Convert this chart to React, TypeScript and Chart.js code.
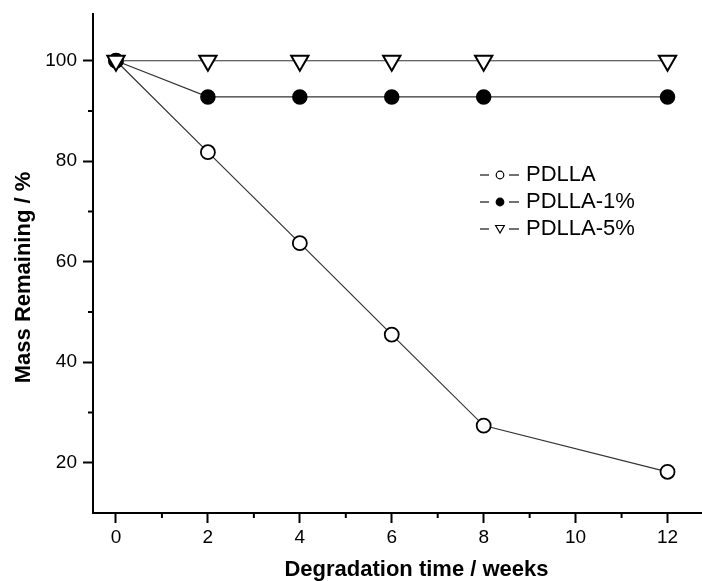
import React, { useEffect, useRef } from 'react';
import { Chart, registerables } from 'chart.js';
import { drawPoint } from 'chart.js/helpers';

Chart.register(...registerables);

const weeks = [0, 2, 4, 6, 8, 12];
const pdlla = [100, 81.8, 63.7, 45.5, 27.4, 18.2];
const pdlla1 = [100, 92.8, 92.8, 92.8, 92.8, 92.8];
const pdlla5 = [100, 100, 100, 100, 100, 100];
const seriesLabels = ['PDLLA', 'PDLLA-1%', 'PDLLA-5%'];
const xMajorTicks = [0, 2, 4, 6, 8, 10, 12];
const xMinorTicks = [1, 3, 5, 7, 9, 11];
const yMajorTicks = [20, 40, 60, 80, 100];
const yMinorTicks = [30, 50, 70, 90];
const xTitle = 'Degradation time / weeks';
const yTitle = 'Mass Remaining / %';

const FONT = "'Liberation Sans', Arial, Helvetica, sans-serif";

const toPoints = (ys: number[]) => weeks.map((x, i) => ({ x, y: ys[i] }));

const minorTicksPlugin = {
  id: 'minorTicks',
  afterDraw(chart: any) {
    const { ctx, chartArea, scales } = chart;
    ctx.save();
    ctx.strokeStyle = '#000';
    ctx.lineWidth = 2;
    xMinorTicks.forEach((v) => {
      const px = scales.x.getPixelForValue(v);
      ctx.beginPath();
      ctx.moveTo(px, chartArea.bottom);
      ctx.lineTo(px, chartArea.bottom + 5);
      ctx.stroke();
    });
    yMinorTicks.forEach((v) => {
      const py = scales.y.getPixelForValue(v);
      ctx.beginPath();
      ctx.moveTo(chartArea.left, py);
      ctx.lineTo(chartArea.left - 5, py);
      ctx.stroke();
    });
    ctx.restore();
  },
};

const titlesPlugin = {
  id: 'axisTitles',
  afterDraw(chart: any) {
    const { ctx, chartArea } = chart;
    ctx.save();
    ctx.fillStyle = '#000';
    ctx.font = `bold 22px ${FONT}`;
    ctx.textAlign = 'center';
    ctx.textBaseline = 'middle';
    ctx.fillText(xTitle, chartArea.left + 323.5, chartArea.bottom + 57);
    ctx.translate(chartArea.left - 69, chartArea.top + 263.5);
    ctx.rotate(-Math.PI / 2);
    ctx.fillText(yTitle, 0, 0);
    ctx.restore();
  },
};

const legendPlugin = {
  id: 'innerLegend',
  afterDraw(chart: any) {
    const { ctx, chartArea } = chart;
    const x0 = chartArea.left + 387;
    const y0 = chartArea.top + 161;
    const rowH = 27;
    ctx.save();
    chart.data.datasets.forEach((ds: any, i: number) => {
      const y = y0 + i * rowH;
      ctx.strokeStyle = '#444';
      ctx.lineWidth = 1.4;
      ctx.beginPath();
      ctx.moveTo(x0, y);
      ctx.lineTo(x0 + 9, y);
      ctx.moveTo(x0 + 29, y);
      ctx.lineTo(x0 + 39, y);
      ctx.stroke();
      ctx.fillStyle = ds.pointBackgroundColor;
      ctx.strokeStyle = '#000';
      ctx.lineWidth = 1.2;
      drawPoint(ctx, {
        pointStyle: ds.pointStyle,
        rotation: ds.pointRotation || 0,
        radius: ds.pointStyle === 'triangle' ? 5 : 3.8,
        borderWidth: 1.2,
      }, x0 + 20, ds.pointStyle === 'triangle' ? y - 1 : y);
      ctx.fillStyle = '#000';
      ctx.font = `22px ${FONT}`;
      ctx.textBaseline = 'middle';
      ctx.textAlign = 'left';
      ctx.fillText(ds.label, x0 + 46, y);
    });
    ctx.restore();
  },
};

export default function App() {
  const canvasRef = useRef<HTMLCanvasElement | null>(null);

  useEffect(() => {
    const canvas = canvasRef.current;
    if (!canvas) return;
    const lineColor = '#333';
    const chart = new Chart(canvas, {
      type: 'line',
      data: {
        datasets: [
          {
            label: seriesLabels[0],
            data: toPoints(pdlla),
            borderColor: lineColor,
            borderWidth: 1.2,
            pointStyle: 'circle',
            pointRadius: 7,
            pointBorderWidth: 1.8,
            pointBorderColor: '#000',
            pointBackgroundColor: '#fff',
            order: 2,
          },
          {
            label: seriesLabels[1],
            data: toPoints(pdlla1),
            borderColor: lineColor,
            borderWidth: 1.2,
            pointStyle: 'circle',
            pointRadius: 7,
            pointBorderWidth: 1.5,
            pointBorderColor: '#000',
            pointBackgroundColor: '#000',
            order: 1,
          },
          {
            label: seriesLabels[2],
            data: toPoints(pdlla5),
            borderColor: lineColor,
            borderWidth: 1.2,
            pointStyle: 'triangle',
            pointRotation: 180,
            pointRadius: 10,
            pointBorderWidth: 2,
            pointBorderColor: '#000',
            pointBackgroundColor: '#fff',
            order: 0,
          },
        ],
      },
      options: {
        responsive: false,
        animation: false,
        layout: { autoPadding: false, padding: { top: 14, left: 0, right: 0, bottom: 0 } },
        plugins: {
          legend: { display: false },
          tooltip: { enabled: false },
        },
        elements: { line: { tension: 0 } },
        scales: {
          x: {
            type: 'linear',
            min: -0.5,
            max: 12.75,
            afterBuildTicks: (scale: any) => {
              scale.ticks = xMajorTicks.map((v) => ({ value: v }));
            },
            afterFit: (scale: any) => {
              scale.height = 68;
              scale.paddingLeft = 0;
              scale.paddingRight = 0;
            },
            ticks: {
              color: '#000',
              font: { family: FONT, size: 19 },
              padding: 3,
              maxRotation: 0,
              autoSkip: false,
              callback: (v: any) => String(v),
            },
            grid: {
              drawOnChartArea: false,
              drawTicks: true,
              tickLength: 10,
              tickWidth: 2,
              tickColor: '#000',
            },
            border: { display: true, color: '#000', width: 2 },
            title: { display: false },
          },
          y: {
            type: 'linear',
            min: 10,
            max: 109.3,
            afterBuildTicks: (scale: any) => {
              scale.ticks = yMajorTicks.map((v) => ({ value: v }));
            },
            afterFit: (scale: any) => {
              scale.width = 93;
              scale.paddingTop = 0;
              scale.paddingBottom = 0;
            },
            ticks: {
              color: '#000',
              font: { family: FONT, size: 19 },
              padding: 6,
              autoSkip: false,
              callback: (v: any) => String(v),
            },
            grid: {
              drawOnChartArea: false,
              drawTicks: true,
              tickLength: 10,
              tickWidth: 2,
              tickColor: '#000',
            },
            border: { display: true, color: '#000', width: 2 },
            title: { display: false },
          },
        },
      },
      plugins: [minorTicksPlugin, titlesPlugin, legendPlugin],
    });
    return () => chart.destroy();
  }, []);

  return (
    <div style={{ position: 'fixed', left: 0, top: 0, width: 702, height: 581, background: '#fff' }}>
      <canvas ref={canvasRef} width={702} height={581} style={{ display: 'block' }} />
    </div>
  );
}
